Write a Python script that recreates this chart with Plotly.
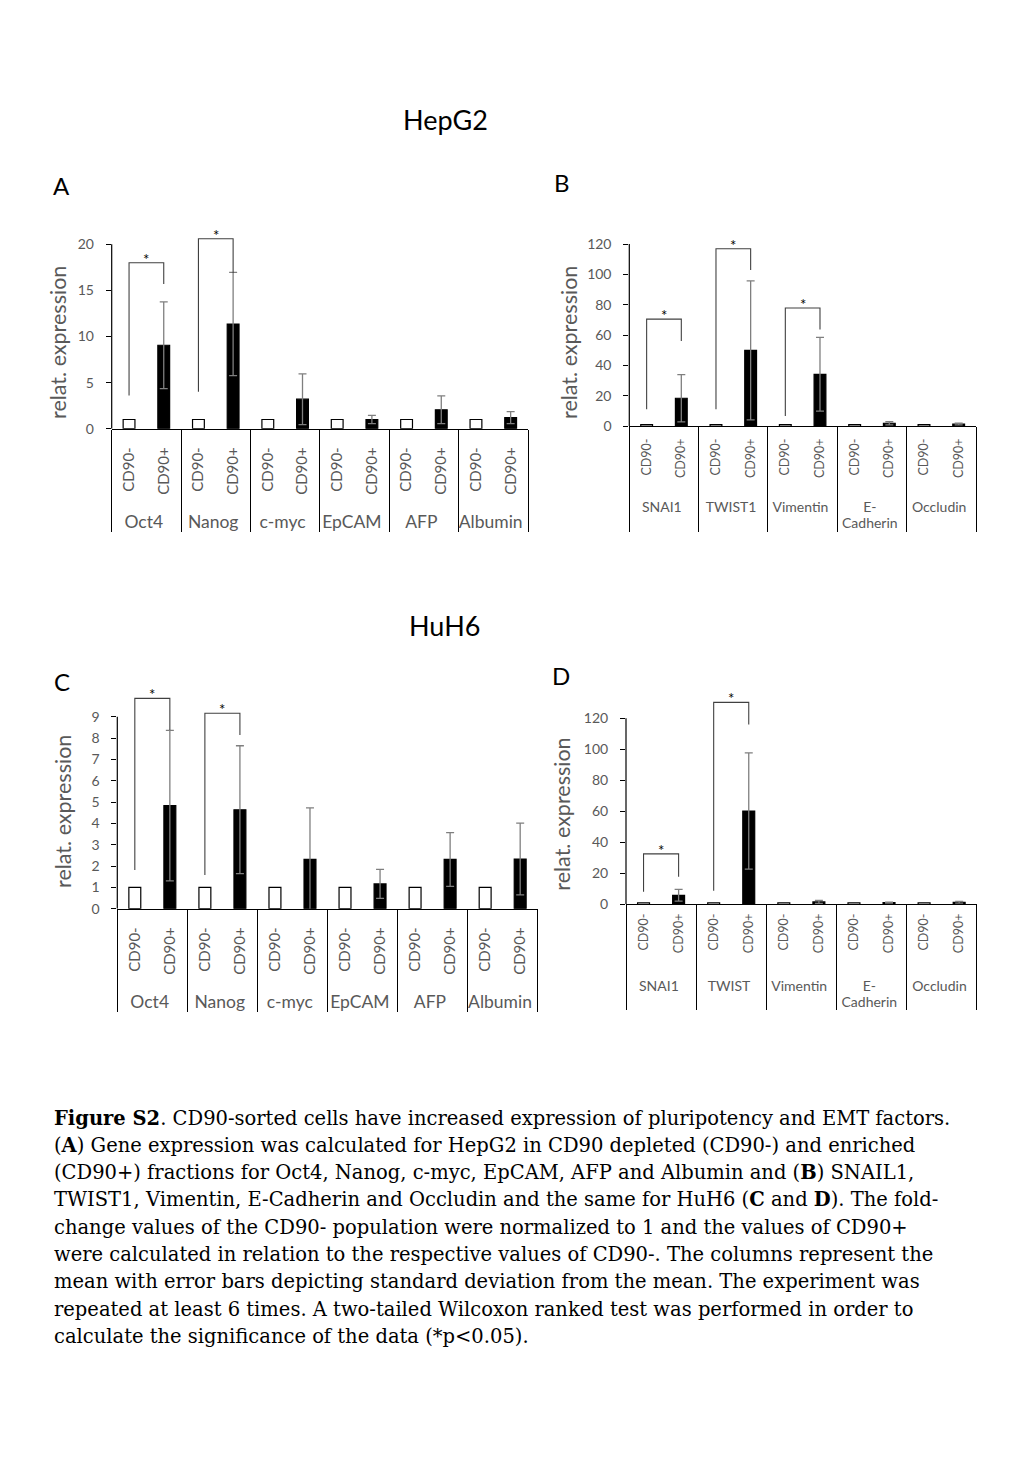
import plotly.graph_objects as go

# ---------------- data ----------------
FRACTIONS = ["CD90-", "CD90+"]

# HepG2 (A) pluripotency markers
genes_A = ["Oct4", "Nanog", "c-myc", "EpCAM", "AFP", "Albumin"]
A_cd90neg = [1, 1, 1, 1, 1, 1]
A_cd90pos = [9.05, 11.35, 3.2, 1.0, 2.05, 1.2]
A_cd90pos_sd = [4.7, 5.6, 2.75, 0.45, 1.5, 0.65]
# significance brackets: gene, start of CD90- leg, bracket top, start of CD90+ leg
A_sig = [("Oct4", 3.6, 18.0, 15.7), ("Nanog", 4.0, 20.6, 16.9)]

# HepG2 (B) EMT markers
genes_B = ["SNAI1", "TWIST1", "Vimentin", "E-<br>Cadherin", "Occludin"]
B_cd90neg = [1, 1, 1, 1, 1]
B_cd90pos = [18.3, 49.9, 34.1, 1.8, 1.3]
B_cd90pos_sd = [15.6, 45.8, 24.3, 1.0, 0.5]
B_sig = [("SNAI1", 11, 70.5, 56), ("TWIST1", 11, 116.9, 102.8), ("Vimentin", 6.6, 77.8, 63.7)]

# HuH6 (C) pluripotency markers
genes_C = ["Oct4", "Nanog", "c-myc", "EpCAM", "AFP", "Albumin"]
C_cd90neg = [1, 1, 1, 1, 1, 1]
C_cd90pos = [4.83, 4.64, 2.31, 1.16, 2.31, 2.33]
C_cd90pos_sd = [3.53, 3.0, 2.42, 0.68, 1.26, 1.68]
C_sig = [("Oct4", 1.81, 9.86, 8.38), ("Nanog", 1.58, 9.16, 8.14)]

# HuH6 (D) EMT markers
genes_D = ["SNAI1", "TWIST", "Vimentin", "E-<br>Cadherin", "Occludin"]
D_cd90neg = [1, 1, 1, 1, 1]
D_cd90pos = [5.8, 60.2, 1.5, 1.1, 1.3]
D_cd90pos_sd = [3.8, 37.5, 1.0, 0.3, 0.6]
D_sig = [("SNAI1", 8.1, 32.5, 17.8), ("TWIST", 8.8, 130.3, 116)]

A_yticks = [0, 5, 10, 15, 20]
B_yticks = [0, 20, 40, 60, 80, 100, 120]
C_yticks = [0, 1, 2, 3, 4, 5, 6, 7, 8, 9]
D_yticks = [0, 20, 40, 60, 80, 100, 120]

Y_TITLE = "relat. expression"
TITLES = ["HepG2", "HuH6"]
LETTERS = ["A", "B", "C", "D"]

CAPTION = [
    "<b>Figure S2</b>. CD90-sorted cells have increased expression of pluripotency and EMT factors.",
    "(<b>A</b>) Gene expression was calculated for HepG2 in CD90 depleted (CD90-) and enriched",
    "(CD90+) fractions for Oct4, Nanog, c-myc, EpCAM, AFP and Albumin and (<b>B</b>) SNAIL1,",
    "TWIST1, Vimentin, E-Cadherin and Occludin and the same for HuH6 (<b>C</b> and <b>D</b>). The fold-",
    "change values of the CD90- population were normalized to 1 and the values of CD90+",
    "were calculated in relation to the respective values of CD90-. The columns represent the",
    "mean with error bars depicting standard deviation from the mean. The experiment was",
    "repeated at least 6 times. A two-tailed Wilcoxon ranked test was performed in order to",
    "calculate the significance of the data (*p&lt;0.05).",
]

# ---------------- layout helpers ----------------
W, H = 1024, 1479
FONT = "Lato"
GRAY = "#595959"
NBSP = "\u00a0"


def px_x(v):
    return v / W


def px_y(v):
    return 1 - v / H


panels = [
    dict(s="", genes=genes_A, neg=A_cd90neg, pos=A_cd90pos, sd=A_cd90pos_sd, sig=A_sig,
         yticks=A_yticks, yrange=[0, 21], xdom=[111.7, 528], ydom=[428.7, 235.1],
         inner=15, outer=17.5, pad=(1, 3), ytitle=(58, 343)),
    dict(s="2", genes=genes_B, neg=B_cd90neg, pos=B_cd90pos, sd=B_cd90pos_sd, sig=B_sig,
         yticks=B_yticks, yrange=[0, 120], xdom=[629.3, 976], ydom=[426, 244],
         inner=12.5, outer=14, pad=(3, 2), ytitle=(569, 343)),
    dict(s="3", genes=genes_C, neg=C_cd90neg, pos=C_cd90pos, sd=C_cd90pos_sd, sig=C_sig,
         yticks=C_yticks, yrange=[0, 10], xdom=[117.3, 537.7], ydom=[908.7, 695.4],
         inner=15, outer=17.5, pad=(1, 3), ytitle=(63, 812)),
    dict(s="4", genes=genes_D, neg=D_cd90neg, pos=D_cd90pos, sd=D_cd90pos_sd, sig=D_sig,
         yticks=D_yticks, yrange=[0, 132], xdom=[626, 976.7], ydom=[904.3, 699.7],
         inner=12.5, outer=14, pad=(4, 1), ytitle=(561.7, 814)),
]

fig = go.Figure()
layout = dict(width=W, height=H,
              margin=dict(l=0, r=0, t=0, b=0, pad=0, autoexpand=False),
              autosize=False,
              paper_bgcolor="white", plot_bgcolor="white", showlegend=False,
              barmode="overlay", shapes=[], annotations=[])

for p in panels:
    s = p["s"]
    n = len(p["genes"])
    lab = {g: "<span style='font-size:%spx'>%s</span>" % (p["outer"], g) for g in p["genes"]}
    glab = [lab[g] for g in p["genes"]]
    sub = [NBSP * p["pad"][0] + f + NBSP * p["pad"][1] for f in FRACTIONS]
    fig.add_trace(go.Bar(
        x=[glab, [sub[0]] * n], y=p["neg"], xaxis="x" + s, yaxis="y" + s,
        width=0.34, marker=dict(color="white", line=dict(color="black", width=1.2)),
    ))
    fig.add_trace(go.Bar(
        x=[glab, [sub[1]] * n], y=p["pos"], xaxis="x" + s, yaxis="y" + s,
        width=0.34, marker=dict(color="black", line=dict(color="black", width=1.2)),
        error_y=dict(type="data", array=p["sd"], visible=True, color="#7f7f7f",
                     thickness=1.3, width=4),
    ))
    for (g, ly, ty, ry) in p["sig"]:
        fig.add_trace(go.Scatter(
            x=[[lab[g]] * 4, [sub[0], sub[0], sub[1], sub[1]]],
            y=[ly, ty, ty, ry], mode="lines", xaxis="x" + s, yaxis="y" + s,
            line=dict(color="#404040", width=1.1), hoverinfo="skip",
        ))
        gi = p["genes"].index(g)
        layout["annotations"].append(dict(
            x=2 * gi + 0.5, y=ty, xref="x" + s, yref="y" + s, text="*",
            showarrow=False, xanchor="center", yanchor="middle", yshift=4,
            font=dict(family=FONT, size=15, color="black")))

    layout["xaxis" + s] = dict(
        domain=[px_x(p["xdom"][0]), px_x(p["xdom"][1])], anchor="y" + s,
        type="multicategory", range=[-0.5, 2 * n - 0.5], automargin=False,
        showline=True, linecolor="black", linewidth=1.2, ticks="",
        showdividers=True, dividercolor="black", dividerwidth=1.2,
        tickangle=-90, showgrid=False, zeroline=False,
        tickfont=dict(family=FONT, size=p["inner"], color=GRAY))
    layout["yaxis" + s] = dict(
        domain=[px_y(p["ydom"][0]), px_y(p["ydom"][1])], anchor="x" + s,
        range=p["yrange"], tickvals=p["yticks"], ticks="outside", ticklen=5,
        tickcolor="black", showline=False, showgrid=False, zeroline=False,
        ticklabelstandoff=9, automargin=False,
        tickfont=dict(family=FONT, size=14, color=GRAY))
    layout["shapes"].append(dict(
        type="line", xref="x" + s + " domain", yref="y" + s, x0=0, x1=0,
        y0=0, y1=p["yticks"][-1], line=dict(color="black", width=1.2)))
    layout["annotations"].append(dict(
        x=px_x(p["ytitle"][0]), y=px_y(p["ytitle"][1]), xref="paper", yref="paper",
        xanchor="center", yanchor="middle",
        text=Y_TITLE, textangle=-90, showarrow=False,
        font=dict(family=FONT, size=21.5, color=GRAY)))

# titles and panel letters
for t, (tx, ty) in zip(TITLES, [(445, 119), (445, 625)]):
    layout["annotations"].append(dict(
        x=px_x(tx), y=px_y(ty), xref="paper", yref="paper", text=t, showarrow=False,
        xanchor="center", yanchor="middle",
        font=dict(family=FONT, size=27, color="black")))
for t, (tx, ty) in zip(LETTERS, [(61, 186), (562, 182), (62, 681), (561, 675)]):
    layout["annotations"].append(dict(
        x=px_x(tx), y=px_y(ty), xref="paper", yref="paper", text=t, showarrow=False,
        xanchor="center", yanchor="middle",
        font=dict(family=FONT, size=24, color="black")))

# caption
for i, line in enumerate(CAPTION):
    layout["annotations"].append(dict(
        x=px_x(52), y=px_y(1118 + i * 27.3), xref="paper", yref="paper",
        xanchor="left", yanchor="middle", text=line, showarrow=False,
        font=dict(family="DejaVu Serif", size=19.5, color="black")))

fig.update_layout(**layout)
fig.write_html(
    "out.html",
    config={"displayModeBar": False},
    post_script="document.body.style.margin='0';document.body.style.overflow='hidden';",
)
